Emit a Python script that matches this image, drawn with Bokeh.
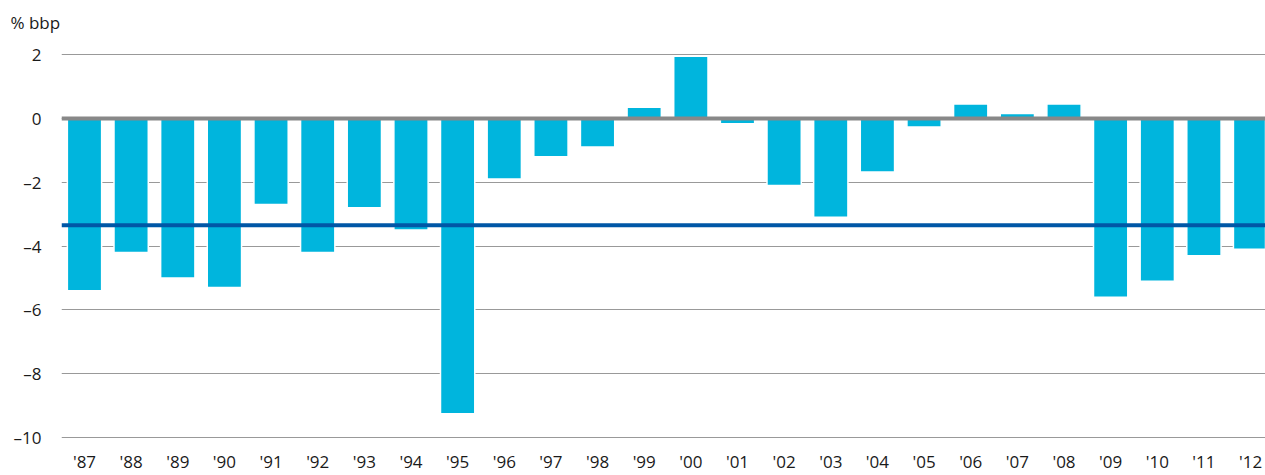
from bokeh.plotting import figure
from bokeh.models import ColumnDataSource, Span, FixedTicker
from bokeh.embed import file_html
from bokeh.resources import INLINE

years = ["'87", "'88", "'89", "'90", "'91", "'92", "'93", "'94", "'95", "'96",
         "'97", "'98", "'99", "'00", "'01", "'02", "'03", "'04", "'05", "'06",
         "'07", "'08", "'09", "'10", "'11", "'12"]
values = [-5.4, -4.2, -5.0, -5.3, -2.7, -4.2, -2.8, -3.5, -9.25, -1.9,
          -1.2, -0.9, 0.35, 1.95, -0.17, -2.1, -3.1, -1.68, -0.27, 0.45,
          0.15, 0.45, -5.6, -5.1, -4.3, -4.1]
average = -3.35
y_ticks = [2, 0, -2, -4, -6, -8, -10]
y_tick_labels = ["2", "0", "\u20132", "\u20134", "\u20136", "\u20138", "\u201310"]

FONT = "Open Sans"
TXT = "#1a1a1a"
FS = "17px"
xs = list(range(len(years)))
src = ColumnDataSource(dict(x=xs, top=values))

p = figure(width=1265, height=475, output_backend="svg", toolbar_location=None,
           x_range=(-0.493, 25.32), y_range=(-10.06, 2.44),
           min_border_left=61, min_border_right=0, min_border_top=40,
           min_border_bottom=0)
p.outline_line_color = None
p.background_fill_color = "white"

p.title.text = "% bbp"
p.title.align = "left"
p.title.offset = -51
p.title.text_font = FONT
p.title.text_font_size = FS
p.title.text_font_style = "normal"
p.title.text_color = TXT
p.title.standoff = 14

p.vbar(x="x", top="top", bottom=0, width=0.735, source=src,
       fill_color="#00b5dd", line_color="white", line_width=1.5)

p.add_layout(Span(location=0, dimension="width", line_color="#888888", line_width=4))
p.add_layout(Span(location=average, dimension="width", line_color="#0057a6", line_width=4))

for ax in (p.xaxis, p.yaxis):
    ax.axis_line_color = None
    ax.major_tick_line_color = None
    ax.minor_tick_line_color = None
    ax.major_tick_out = 0
    ax.major_tick_in = 0
    ax.minor_tick_out = 0
    ax.major_label_text_font = FONT
    ax.major_label_text_font_size = FS
    ax.major_label_text_color = TXT

p.xaxis.ticker = FixedTicker(ticks=xs)
p.xaxis.major_label_overrides = {i: y for i, y in enumerate(years)}
p.xaxis.major_label_standoff = 10

p.yaxis.ticker = FixedTicker(ticks=y_ticks)
p.yaxis.major_label_overrides = {t: l for t, l in zip(y_ticks, y_tick_labels)}
p.yaxis.major_label_standoff = 20

p.xgrid.grid_line_color = None
p.ygrid.grid_line_color = "#999999"
p.ygrid.grid_line_width = 1
p.ygrid.level = "underlay"

open("out.html", "w").write(file_html(p, INLINE))
